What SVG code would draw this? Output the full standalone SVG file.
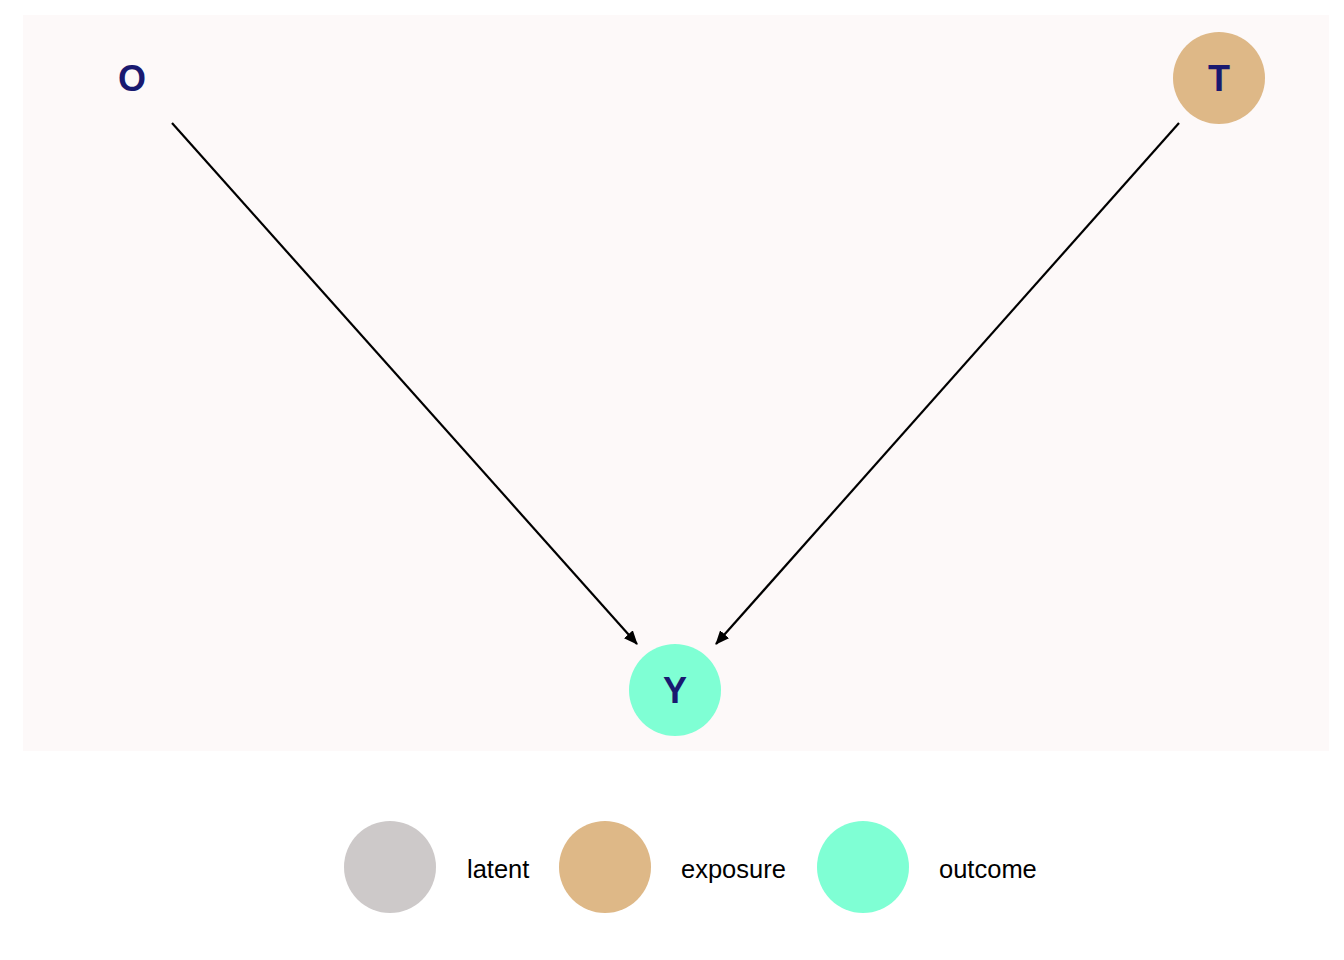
<svg xmlns="http://www.w3.org/2000/svg" width="1344" height="960" viewBox="0 0 1344 960">
<style>
.lbl{font-family:"Liberation Sans",Arial,sans-serif;font-weight:bold;font-size:36px;fill:#191970;text-anchor:middle}
.leg{font-family:"Liberation Sans",Arial,sans-serif;font-size:25.5px;fill:#000}
.edge{stroke:#000;stroke-width:2.2;fill:none;marker-end:url(#ah)}
</style>
<defs>
<marker id="ah" markerWidth="14" markerHeight="12" refX="13" refY="6" orient="auto" markerUnits="userSpaceOnUse" viewBox="0 0 14 12">
<path d="M0,0 L14,6 L0,12 Z" fill="#000"/>
</marker>
</defs>
<rect width="1344" height="960" fill="#ffffff"/>
<rect x="23" y="15" width="1306" height="736" fill="#fdf9f9"/>
<g id="connectors">
<line class="edge" x1="172" y1="123" x2="637" y2="644"/>
<line class="edge" x1="1179" y1="123" x2="716" y2="644"/>
</g>
<g id="node-O"><text class="lbl" x="132" y="91">O</text></g>
<g id="node-T"><circle cx="1219" cy="78" r="46" fill="#deb887"/><text class="lbl" x="1219" y="91">T</text></g>
<g id="node-Y"><circle cx="675" cy="690" r="46" fill="#7fffd4"/><text class="lbl" x="675" y="703">Y</text></g>
<g id="legend">
<circle cx="390" cy="867" r="46" fill="#cdc9c9"/><text class="leg" x="467" y="878">latent</text>
<circle cx="605" cy="867" r="46" fill="#deb887"/><text class="leg" x="681" y="878">exposure</text>
<circle cx="863" cy="867" r="46" fill="#7fffd4"/><text class="leg" x="939" y="878">outcome</text>
</g>
</svg>
